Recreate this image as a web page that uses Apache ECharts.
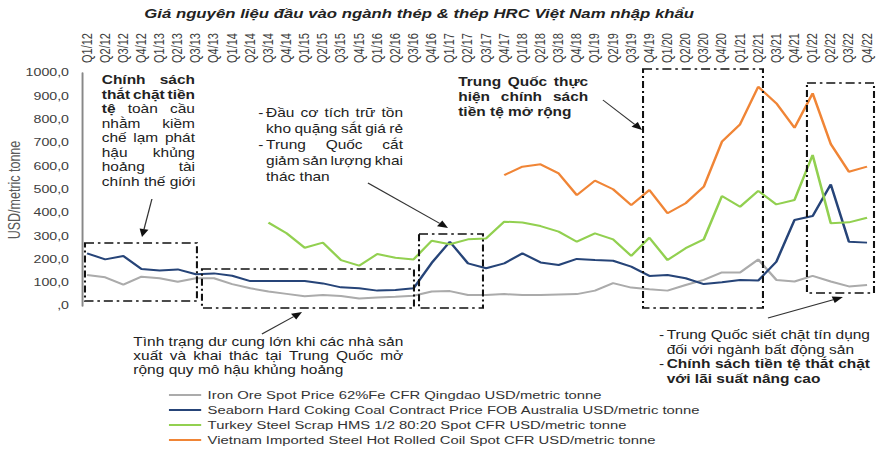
<!DOCTYPE html>
<html><head><meta charset="utf-8">
<script src="https://cdn.jsdelivr.net/npm/echarts@6/dist/echarts.min.js"></script>
<style>
html,body{margin:0;padding:0;background:#fff;overflow:hidden;}
#main{width:687px;height:453px;transform:scaleX(1.28966);transform-origin:0 0;}
</style></head><body><div id="main"></div>
<script>
// ---------- DATA ----------
const categories = ['Q1/12','Q2/12','Q3/12','Q4/12','Q1/13','Q2/13','Q3/13','Q4/13','Q1/14','Q2/14','Q3/14','Q4/14',
  'Q1/15','Q2/15','Q3/15','Q4/15','Q1/16','Q2/16','Q3/16','Q4/16','Q1/17','Q2/17','Q3/17','Q4/17',
  'Q1/18','Q2/18','Q3/18','Q4/18','Q1/19','Q2/19','Q3/19','Q4/19','Q1/20','Q2/20','Q3/20','Q4/20',
  'Q1/21','Q2/21','Q3/21','Q4/21','Q1/22','Q2/22','Q3/22','Q4/22'];
const seriesNames = [
  'Iron Ore Spot Price 62%Fe CFR Qingdao USD/metric tonne',
  'Seaborn Hard Coking Coal Contract Price FOB Australia USD/metric tonne',
  'Turkey Steel Scrap HMS 1/2 80:20 Spot CFR USD/metric tonne',
  'Vietnam Imported Steel Hot Rolled Coil Spot CFR USD/metric tonne'];
const ironOre = [133,123,92,126,119,104,119,119,94,76,62,52,42,47,43,32,37,40,44,62,64,47,
  47,51,47,47,49,51,66,98,79,72,66,90,112,144,144,200,112,105,129,105,84,90];
const coal = [226,200,215,159,152,157,136,140,130,107,107,107,107,97,80,76,66,69,76,185,276,183,
  162,183,226,187,176,202,197,194,169,129,133,119,94,102,112,109,190,369,386,522,276,272];
const scrap = [null,null,null,null,null,null,null,null,null,null,358,312,250,272,197,173,223,207,200,280,265,286,
  290,362,358,343,319,276,312,286,215,293,197,248,286,472,426,494,436,455,648,355,359,379];
const hrc = [null,null,null,null,null,null,null,null,null,null,null,null,null,null,null,null,null,null,null,null,null,null,
  null,562,598,608,569,476,538,501,433,498,398,441,512,705,780,941,870,765,913,695,576,598];
const yMax = 1000, yStep = 100;
const titleText = 'Giá nguyên liệu đầu vào ngành thép & thép HRC Việt Nam nhập khẩu';
const yName = 'USD/metric tonne';

// annotation texts: [line, boldWordCount, justify, leadingDash]
const note1 = [['Chính sách',99,1],['thắt chặt tiền',99,1],['tệ toàn cầu',1,1],['nhằm kiềm',0,1],
  ['chế lạm phát',0,1],['hậu khủng',0,1],['hoảng tài',0,1],['chính thế giới',0,0]];
const note2 = [['Đầu cơ tích trữ tồn',0,1,1],['kho quặng sắt giá rẻ',0,1],['Trung Quốc cắt',0,1,1],
  ['giảm sản lượng khai',0,1],['thác than',0,0]];
const note3 = [['Tình trạng dư cung lớn khi các nhà sản',0,1],['xuất và khai thác tại Trung Quốc mở',0,1],
  ['rộng quy mô hậu khủng hoảng',0,0]];
const note4 = [['Trung Quốc thực',99,1],['hiện chính sách',99,1],['tiền tệ mở rộng',99,0]];
const note5 = [['Trung Quốc siết chặt tín dụng',0,1,1],['đối với ngành bất động sản',0,0],
  ['Chính sách tiền tệ thắt chặt',99,1,1],['với lãi suất nâng cao',99,0]];

// ---------- LAYOUT / STYLE ----------
const FF = '"Liberation Sans", Arial, sans-serif';
const colors = ['#ABABAB','#264478','#92D050','#F08536'];
const mctx = document.createElement('canvas').getContext('2d');
function fnt(b,s){return (b?'bold ':'')+s+'px '+FF;}
function meas(t,b,s){mctx.font=fnt(b,s);return mctx.measureText(t).width;}
function block(lines,x,y,w,lh,size,color){
  const els=[];
  lines.forEach((ln,i)=>{
    const words=ln[0].split(' ');
    const bold=words.map((_,k)=>k<ln[1]);
    const ws=words.map((t,k)=>meas(t,bold[k],size));
    const tot=ws.reduce((a,b)=>a+b,0);
    const gap=(ln[2]&&words.length>1)?(w-tot)/(words.length-1):meas(' ',bold[0],size);
    const cy=y+i*lh; let cx=x;
    if(ln[3]) els.push({type:'text',x:x-6,y:cy,silent:true,style:{text:'-',font:fnt(false,size),fill:color,align:'left',verticalAlign:'middle'}});
    words.forEach((t,k)=>{
      els.push({type:'text',x:cx,y:cy,silent:true,style:{text:t,font:fnt(bold[k],size),fill:color,align:'left',verticalAlign:'middle'}});
      cx+=ws[k]+gap;
    });
  });
  return els;
}
function box(x1,y1,x2,y2){
  return {type:'rect',silent:true,shape:{x:x1,y:y1,width:x2-x1,height:y2-y1},
    style:{fill:'none',stroke:'#111',lineWidth:1.6,lineDash:[7,3,2,3]},z:10};
}
function arrow(x1,y1,x2,y2){
  const dx=x2-x1,dy=y2-y1,L=Math.hypot(dx,dy),ux=dx/L,uy=dy/L,h=8,hw=3.5;
  const bx=x2-ux*h,by=y2-uy*h;
  return [
    {type:'line',silent:true,shape:{x1:x1,y1:y1,x2:bx,y2:by},style:{stroke:'#333',lineWidth:1},z:10},
    {type:'polygon',silent:true,shape:{points:[[x2,y2],[bx-uy*hw,by+ux*hw],[bx+uy*hw,by-ux*hw]]},style:{fill:'#111'},z:10}
  ];
}
const txtColor='#222';
const graphics = [].concat(
  [{type:'text',x:325,y:13,silent:true,style:{text:titleText,font:'italic bold 13px '+FF,fill:'#222',align:'center',verticalAlign:'middle'}}],
  [{type:'text',x:11.5,y:190,rotation:Math.PI/2,silent:true,style:{text:yName,font:'12.5px '+FF,fill:'#595959',align:'center',verticalAlign:'middle'}}],
  block(note1,78.9,80,72.3,14.5,12,txtColor),
  block(note2,206.3,113,106.2,16,12,txtColor),
  block(note3,103.4,342,209.3,14,12,txtColor),
  block(note4,355.3,81.7,100.8,15,12,txtColor),
  block(note5,516.9,335,157.7,14.5,12,txtColor),
  [box(65.9,243,152.7,301),box(156.6,269,321.0,308),box(324.9,234,374.5,308),box(498.6,69,591.6,308),box(625.7,83,677.7,293)],
  arrow(117.8,199,110.1,237),arrow(203.1,334,234.2,312),arrow(285.3,183,347.4,228),
  arrow(467.5,100,497.8,130),arrow(595.5,318,653.6,297)
);

const chart = echarts.init(document.getElementById('main'), null, {renderer:'svg'});
const data=[ironOre,coal,scrap,hrc];
chart.setOption({
  animation:false,
  backgroundColor:'#fff',
  textStyle:{fontFamily:FF},
  grid:{left:67.5,right:14.7,top:73,bottom:147,containLabel:false,outerBoundsMode:'none'},
  legend:{orient:'vertical',left:131,top:388,padding:0,itemGap:1,itemWidth:25,itemHeight:2,icon:'rect',
    textStyle:{fontSize:11.5,color:'#333',fontFamily:FF,lineHeight:14},data:seriesNames},
  xAxis:{type:'category',data:categories,position:'top',boundaryGap:false,
    axisLine:{show:false},axisTick:{show:false},splitLine:{show:false},
    axisLabel:{interval:0,rotate:90,margin:10,fontSize:11,color:'#404040',fontFamily:FF}},
  yAxis:{type:'value',min:0,max:yMax,interval:yStep,offset:4,
    axisLine:{show:true,lineStyle:{color:'#888',width:1.5}},axisTick:{show:false},splitLine:{show:false},
    axisLabel:{margin:10,fontSize:11,color:'#404040',fontFamily:FF,
      formatter:v=>v===0?',0':v.toFixed(1).replace('.',',')}},
  series:data.map((d,i)=>({name:seriesNames[i],type:'line',data:d,symbol:'none',smooth:false,
    lineStyle:{color:colors[i],width:2},itemStyle:{color:colors[i]},z:2})),
  graphic:graphics
});
</script></body></html>
